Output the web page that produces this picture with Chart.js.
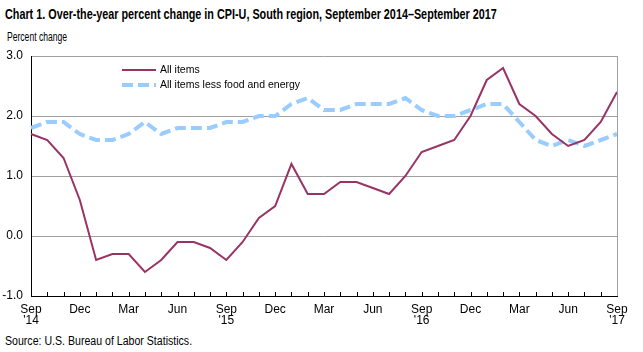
<!DOCTYPE html>
<html>
<head>
<meta charset="utf-8">
<script src="https://cdn.jsdelivr.net/npm/chart.js@4/dist/chart.umd.min.js"></script>
<style>
  body { margin: 0; background: #fff; }
  #wrap { position: relative; width: 643px; height: 352px; font-family: "Liberation Sans Narrow", "Arial Narrow", "Liberation Sans", Arial, sans-serif; color: #000; }
  .txt { position: absolute; white-space: nowrap; transform-origin: 0 0; }
  #title { left: 5px; top: 5px; font-size: 15px; font-weight: bold; }
  #unit { left: 7px; top: 30px; font-size: 12px; }
  #source { left: 5px; top: 334px; font-size: 12px; }
  canvas { position: absolute; left: 0; top: 0; }
</style>
</head>
<body>
<div id="wrap">
  <div class="txt" id="title">Chart 1. Over-the-year percent change in CPI-U, South region, September 2014–September 2017</div>
  <div class="txt" id="unit">Percent change</div>
  <div class="txt" id="source">Source: U.S. Bureau of Labor Statistics.</div>
  <canvas id="cpiChart" width="643" height="352"></canvas>
</div>
<script>
const months = [
  "Sep 2014", "Oct 2014", "Nov 2014", "Dec 2014",
  "Jan 2015", "Feb 2015", "Mar 2015", "Apr 2015", "May 2015", "Jun 2015",
  "Jul 2015", "Aug 2015", "Sep 2015", "Oct 2015", "Nov 2015", "Dec 2015",
  "Jan 2016", "Feb 2016", "Mar 2016", "Apr 2016", "May 2016", "Jun 2016",
  "Jul 2016", "Aug 2016", "Sep 2016", "Oct 2016", "Nov 2016", "Dec 2016",
  "Jan 2017", "Feb 2017", "Mar 2017", "Apr 2017", "May 2017", "Jun 2017",
  "Jul 2017", "Aug 2017", "Sep 2017"
];
const allItems = [
  1.7, 1.6, 1.3, 0.6,
  -0.4, -0.3, -0.3, -0.6, -0.4, -0.1, -0.1, -0.2, -0.4, -0.1, 0.3, 0.5,
  1.2, 0.7, 0.7, 0.9, 0.9, 0.8, 0.7, 1.0, 1.4, 1.5, 1.6, 2.0,
  2.6, 2.8, 2.2, 2.0, 1.7, 1.5, 1.6, 1.9, 2.4
];
const coreItems = [
  1.8, 1.9, 1.9, 1.7,
  1.6, 1.6, 1.7, 1.9, 1.7, 1.8, 1.8, 1.8, 1.9, 1.9, 2.0, 2.0,
  2.2, 2.3, 2.1, 2.1, 2.2, 2.2, 2.2, 2.3, 2.1, 2.0, 2.0, 2.1,
  2.2, 2.2, 1.9, 1.6, 1.5, 1.6, 1.5, 1.6, 1.7
];
const yTicks = [-1, 0, 1, 2, 3];

// squeeze the html texts to the reference widths
function fitWidth(id, w) {
  const el = document.getElementById(id);
  el.style.transform = "scaleX(" + (w / el.offsetWidth) + ")";
}
fitWidth("title", 492);
fitWidth("unit", 60);
fitWidth("source", 187);

const FONT = "'Liberation Sans Narrow', 'Arial Narrow', 'Liberation Sans', Arial, sans-serif";

// inward tick marks on the x axis, right border, legend inside the plot
const extras = {
  id: "extras",
  afterDraw(chart) {
    const ctx = chart.ctx;
    const area = chart.chartArea;
    const x = chart.scales.x;
    ctx.save();
    ctx.strokeStyle = "#000";
    ctx.lineWidth = 1;
    ctx.beginPath();
    for (let i = 0; i < months.length; i++) {
      const px = Math.round(x.getPixelForValue(i)) + 0.5;
      ctx.moveTo(px, area.bottom - 4);
      ctx.lineTo(px, area.bottom);
    }
    ctx.stroke();
    ctx.strokeStyle = "#a0a0a0";
    ctx.beginPath();
    ctx.moveTo(Math.round(area.right) + 0.5, area.top);
    ctx.lineTo(Math.round(area.right) + 0.5, area.bottom);
    ctx.stroke();

    const items = chart.data.datasets;
    ctx.font = "10.5px " + FONT;
    ctx.textBaseline = "middle";
    items.forEach((ds, i) => {
      const y = 70 + i * 15;
      ctx.beginPath();
      ctx.strokeStyle = ds.borderColor;
      ctx.lineWidth = ds.borderWidth;
      ctx.setLineDash(ds.borderDash || []);
      ctx.moveTo(122, y);
      ctx.lineTo(156, y);
      ctx.stroke();
      ctx.setLineDash([]);
      ctx.fillStyle = "#000";
      ctx.fillText(ds.label, 160, y);
    });
    ctx.restore();
  }
};

new Chart(document.getElementById("cpiChart"), {
  type: "line",
  data: {
    labels: months,
    datasets: [{
      label: "All items",
      data: allItems,
      borderColor: "#993366",
      borderWidth: 2,
      pointRadius: 0,
      tension: 0,
      fill: false
    }, {
      label: "All items less food and energy",
      data: coreItems,
      borderColor: "#99ccff",
      borderWidth: 4,
      borderDash: [11, 5],
      pointRadius: 0,
      tension: 0,
      fill: false
    }]
  },
  options: {
    responsive: false,
    animation: false,
    layout: { padding: { top: 56, right: 26, left: 0, bottom: 16 } },
    plugins: {
      legend: { display: false },
      tooltip: { enabled: false }
    },
    scales: {
      x: {
        offset: false,
        afterFit: function (axis) { axis.height = 40; },
        grid: { drawOnChartArea: false, drawTicks: false },
        border: { color: "#000" },
        ticks: {
          autoSkip: false,
          maxRotation: 0,
          color: "#000",
          padding: 8,
          font: { family: FONT, size: 12, lineHeight: 0.95 },
          callback: function (val, i) {
            if (i % 3 !== 0) return "";
            const parts = months[i].split(" ");
            if (parts[0] === "Sep") return [parts[0], "'" + parts[1].slice(2)];
            return parts[0];
          }
        }
      },
      y: {
        min: -1,
        max: 3,
        afterFit: function (axis) { axis.width = 31; },
        afterBuildTicks: function (axis) {
          axis.ticks = yTicks.map(v => ({ value: v }));
        },
        grid: { color: "#a0a0a0", drawTicks: false },
        border: { color: "#000" },
        ticks: {
          color: "#000",
          padding: 8,
          font: { family: FONT, size: 12 },
          callback: v => v.toFixed(1)
        }
      }
    }
  },
  plugins: [extras]
});
</script>
</body>
</html>
